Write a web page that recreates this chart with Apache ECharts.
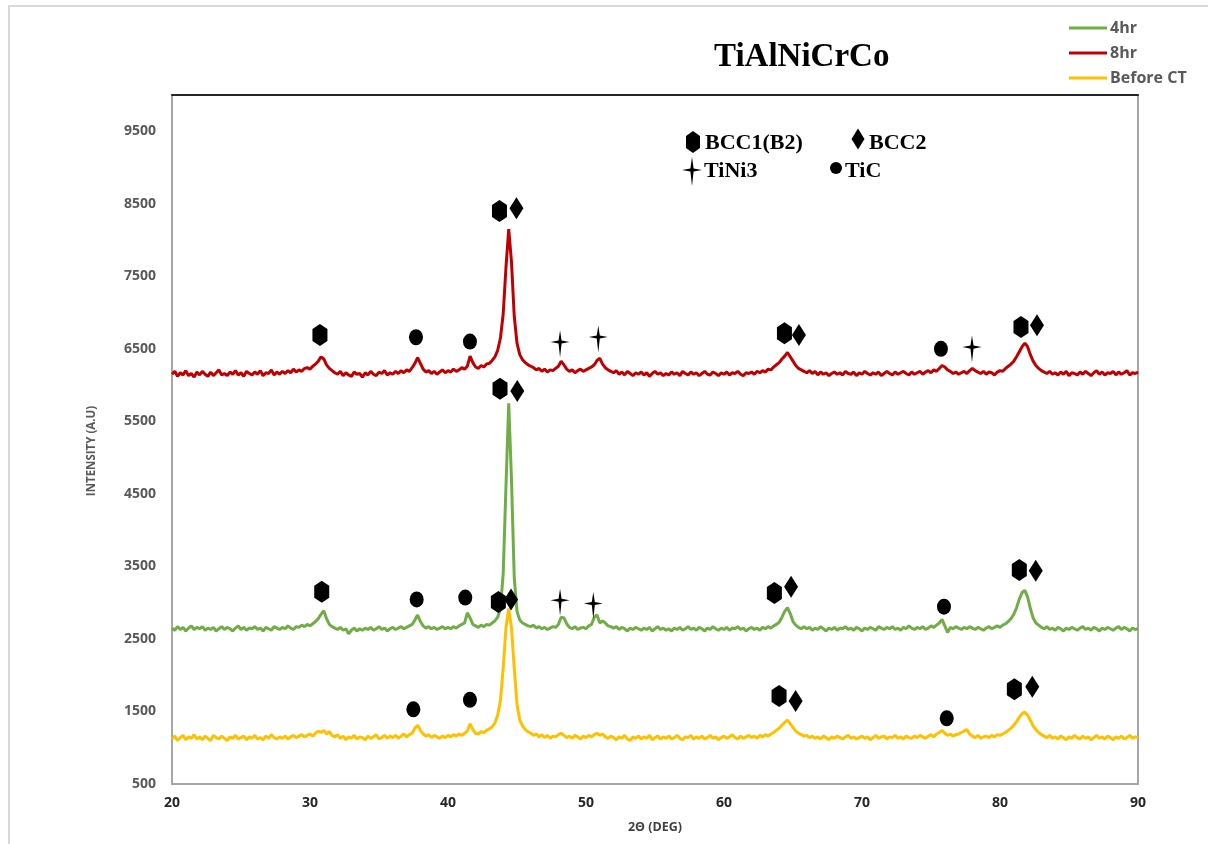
<!DOCTYPE html>
<html>
<head>
<meta charset="utf-8">
<title>TiAlNiCrCo XRD</title>
<script src="https://cdn.jsdelivr.net/npm/echarts@6/dist/echarts.min.js"></script>
<style>
  html, body { margin: 0; padding: 0; background: #fff; }
  #chart { width: 1208px; height: 844px; }
</style>
</head>
<body>
<div id="chart"></div>
<script>
// Diffraction scans, sampled every 0.2 degrees of 2-theta from 20 to 90.
const ANGLE_START = 20;
const ANGLE_STEP = 0.2;

const intensity4hr = [
  2650, 2620, 2670, 2630, 2660, 2610, 2650, 2680, 2630, 2660,
  2640, 2670, 2620, 2650, 2630, 2660, 2610, 2640, 2670, 2630,
  2660, 2640, 2610, 2650, 2680, 2630, 2660, 2620, 2650, 2640,
  2670, 2630, 2650, 2610, 2660, 2640, 2620, 2670, 2650, 2630,
  2660, 2640, 2680, 2650, 2630, 2670, 2660, 2690, 2670, 2700,
  2680, 2710, 2740, 2780, 2840, 2890, 2780, 2700, 2670, 2650,
  2630, 2660, 2620, 2640, 2570, 2620, 2650, 2610, 2640, 2620,
  2650, 2630, 2660, 2620, 2640, 2670, 2630, 2650, 2610, 2640,
  2660, 2630, 2650, 2670, 2640, 2660, 2680, 2700, 2760, 2830,
  2740, 2680, 2650, 2670, 2640, 2660, 2630, 2650, 2670, 2640,
  2660, 2640, 2670, 2650, 2680, 2700, 2720, 2860, 2790, 2700,
  2680, 2660, 2690, 2670, 2700, 2690, 2720, 2750, 2800, 2920,
  3400, 4600, 5750, 4700, 3350, 2880, 2760, 2720, 2700, 2680,
  2670, 2690, 2650, 2670, 2640, 2660, 2630, 2650, 2670, 2660,
  2700, 2800, 2790, 2710, 2660, 2640, 2670, 2630, 2650, 2660,
  2640, 2680, 2700, 2800, 2830, 2720, 2750, 2720, 2680, 2670,
  2650, 2670, 2630, 2660, 2640, 2610, 2650, 2630, 2660, 2640,
  2620, 2650, 2630, 2660, 2610, 2640, 2670, 2630, 2650, 2620,
  2640, 2610, 2650, 2630, 2660, 2620, 2640, 2670, 2630, 2650,
  2620, 2660, 2640, 2610, 2650, 2630, 2670, 2640, 2620, 2650,
  2630, 2660, 2620, 2650, 2640, 2670, 2630, 2650, 2610, 2640,
  2660, 2630, 2650, 2620, 2660, 2640, 2670, 2650, 2680, 2700,
  2730, 2800, 2880, 2930, 2850, 2740, 2690, 2660, 2640, 2670,
  2640, 2660, 2620, 2650, 2630, 2670, 2640, 2610, 2650, 2630,
  2660, 2620, 2650, 2640, 2670, 2630, 2650, 2620, 2660, 2640,
  2610, 2650, 2630, 2660, 2640, 2620, 2670, 2650, 2630, 2660,
  2640, 2670, 2630, 2650, 2620, 2660, 2640, 2680, 2650, 2630,
  2660, 2640, 2670, 2630, 2650, 2680, 2660, 2690, 2720, 2770,
  2680, 2590, 2660, 2640, 2670, 2650, 2630, 2660, 2640, 2670,
  2650, 2630, 2660, 2640, 2620, 2650, 2670, 2640, 2660, 2680,
  2660, 2690, 2710, 2740, 2780, 2840, 2930, 3050, 3140, 3170,
  3080, 2920, 2790, 2720, 2690, 2660, 2640, 2670, 2630, 2650,
  2620, 2660, 2640, 2610, 2650, 2630, 2660, 2640, 2620, 2650,
  2670, 2630, 2650, 2620, 2660, 2640, 2610, 2650, 2630, 2660,
  2640, 2620, 2650, 2670, 2630, 2660, 2640, 2610, 2650, 2630,
  2640
];

const intensity8hr = [
  6150, 6190, 6120, 6170, 6140, 6200, 6130, 6160, 6110, 6180,
  6140, 6190, 6150, 6120, 6180, 6130, 6170, 6210, 6140, 6160,
  6130, 6180, 6150, 6200, 6140, 6170, 6120, 6190, 6160, 6140,
  6180, 6150, 6200, 6130, 6170, 6160, 6210, 6140, 6180, 6150,
  6190, 6160, 6200, 6170, 6220, 6180, 6210, 6190, 6230, 6240,
  6220, 6260, 6290, 6330, 6390, 6360, 6280, 6230, 6200, 6170,
  6150, 6190, 6130, 6170, 6140, 6120, 6180, 6150, 6160, 6110,
  6170, 6140, 6190, 6150, 6130, 6180, 6160, 6200, 6140, 6170,
  6150, 6190, 6160, 6200, 6170, 6210, 6190, 6240, 6300, 6380,
  6300, 6220, 6180, 6200, 6160, 6190, 6150, 6180, 6210, 6170,
  6200, 6180, 6220, 6190, 6210, 6240, 6220, 6260, 6400, 6310,
  6250, 6230, 6270, 6250, 6290, 6300, 6340, 6390, 6480, 6650,
  6980, 7620, 8150, 7700, 6950, 6580, 6420, 6350, 6310, 6280,
  6260, 6240, 6210, 6230, 6190, 6220, 6180, 6210, 6200, 6230,
  6260, 6330, 6280, 6220, 6190, 6210, 6170, 6200, 6220, 6190,
  6210, 6230, 6250, 6280, 6340, 6370, 6290, 6240, 6210, 6190,
  6170, 6200, 6150, 6180, 6140, 6190, 6160, 6130, 6170, 6150,
  6180, 6140, 6170, 6120, 6160, 6190, 6150, 6170, 6130, 6160,
  6140, 6180, 6150, 6170, 6130, 6190, 6160, 6140, 6180, 6150,
  6170, 6130, 6160, 6190, 6150, 6140, 6180, 6160, 6130, 6170,
  6150, 6180, 6140, 6170, 6160, 6190, 6150, 6130, 6170, 6160,
  6180, 6150, 6190, 6170, 6200, 6180, 6220, 6210, 6250, 6280,
  6310, 6360, 6400, 6450, 6390, 6330, 6270, 6230, 6210, 6190,
  6170, 6200, 6160, 6190, 6140, 6180, 6150, 6170, 6130, 6160,
  6180, 6150, 6170, 6140, 6190, 6160, 6150, 6180, 6130, 6170,
  6150, 6190, 6160, 6140, 6170, 6150, 6180, 6130, 6160, 6190,
  6160, 6140, 6180, 6150, 6170, 6190, 6160, 6140, 6180, 6150,
  6170, 6190, 6150, 6180, 6200, 6170, 6210, 6190, 6230, 6270,
  6250, 6210, 6190, 6160, 6180, 6150, 6170, 6190, 6160, 6200,
  6230, 6200, 6180, 6160, 6190, 6150, 6180, 6170, 6140, 6180,
  6200, 6190, 6230, 6260, 6290, 6330, 6390, 6460, 6530, 6580,
  6530, 6420, 6330, 6270, 6230, 6200, 6180, 6160, 6190, 6150,
  6170, 6140, 6180, 6150, 6190, 6130, 6170, 6160, 6140, 6180,
  6150, 6190, 6160, 6130, 6170, 6200, 6150, 6180, 6140, 6170,
  6160, 6190, 6140, 6180, 6150, 6170, 6200, 6140, 6170, 6160,
  6180
];

const intensityBeforeCT = [
  1120, 1160, 1100, 1140, 1170, 1110, 1150, 1130, 1180, 1120,
  1150, 1110, 1160, 1130, 1100, 1170, 1140, 1120, 1160, 1130,
  1100, 1150, 1130, 1170, 1120, 1140, 1160, 1110, 1150, 1130,
  1170, 1120, 1140, 1110, 1160, 1130, 1180, 1140, 1120, 1150,
  1130, 1160, 1120, 1150, 1170, 1140, 1160, 1180, 1150, 1170,
  1190, 1160, 1200, 1230, 1210, 1240, 1190, 1220, 1170, 1150,
  1180, 1130, 1160, 1110, 1150, 1130, 1170, 1120, 1150, 1140,
  1110, 1160, 1130, 1150, 1180, 1120, 1140, 1170, 1130, 1160,
  1140, 1170, 1130, 1160, 1190, 1150, 1180, 1200, 1270, 1310,
  1240, 1190, 1160, 1180, 1140, 1170, 1150, 1130, 1160, 1140,
  1170, 1150, 1180, 1160, 1190, 1170, 1200, 1230, 1330, 1250,
  1200, 1190, 1220, 1210, 1240, 1260, 1290, 1340, 1450, 1650,
  2100, 2650, 2920, 2650, 2100, 1600, 1380, 1300, 1250, 1220,
  1200, 1170, 1190, 1150, 1180, 1140, 1170, 1130, 1160, 1150,
  1180, 1200, 1170, 1140, 1160, 1130, 1170, 1150, 1120, 1160,
  1140, 1170, 1150, 1180, 1200, 1170, 1190, 1150, 1130, 1160,
  1140, 1110, 1150, 1130, 1170, 1120, 1100, 1150, 1130, 1160,
  1120, 1150, 1130, 1170, 1110, 1140, 1160, 1120, 1150, 1130,
  1160, 1120, 1140, 1170, 1130, 1110, 1150, 1140, 1170, 1120,
  1150, 1130, 1160, 1120, 1140, 1170, 1130, 1150, 1110, 1140,
  1160, 1130, 1150, 1180, 1140, 1120, 1160, 1130, 1150, 1170,
  1140, 1160, 1130, 1170, 1150, 1180, 1160, 1190, 1210, 1240,
  1270, 1310, 1350, 1380, 1330, 1280, 1230, 1200, 1180, 1160,
  1170, 1140, 1160, 1130, 1150, 1120, 1160, 1140, 1110, 1150,
  1130, 1160, 1140, 1120, 1150, 1170, 1130, 1150, 1120, 1140,
  1160, 1130, 1150, 1110, 1140, 1170, 1130, 1150, 1160, 1120,
  1150, 1140, 1170, 1130, 1150, 1120, 1160, 1140, 1130, 1160,
  1140, 1170, 1150, 1130, 1160, 1180, 1150, 1190, 1210, 1240,
  1200, 1170, 1190, 1160, 1180, 1190, 1210, 1230, 1250, 1190,
  1160, 1140, 1170, 1130, 1150, 1160, 1140, 1170, 1150, 1180,
  1170, 1190, 1210, 1240, 1270, 1310, 1360, 1420, 1470, 1490,
  1450, 1380, 1300, 1250, 1210, 1180, 1160, 1140, 1170, 1130,
  1150, 1120, 1160, 1140, 1110, 1150, 1130, 1170, 1140, 1120,
  1160, 1130, 1150, 1110, 1140, 1170, 1130, 1150, 1120, 1160,
  1140, 1110, 1150, 1130, 1160, 1120, 1140, 1170, 1130, 1150,
  1140
];

// Phase identification marks: [2-theta, intensity] where each symbol sits.
const bcc1Marks = [
  [30.72, 6690], [43.73, 8400], [64.38, 6715], [81.52, 6800],
  [30.85, 3150], [43.65, 3010], [43.77, 5950], [63.65, 3135], [81.40, 3450],
  [63.99, 1715], [81.04, 1805]
];
const bcc2Marks = [
  [44.96, 8440], [65.43, 6690], [82.68, 6825],
  [44.57, 3045], [45.02, 5920], [64.86, 3220], [82.59, 3440],
  [65.19, 1645], [82.34, 1840]
];
const tini3Marks = [
  [48.12, 6595], [50.89, 6665], [77.97, 6525],
  [48.12, 3035], [50.53, 2990]
];
const ticMarks = [
  [37.68, 6660], [41.59, 6600], [75.72, 6500],
  [37.73, 3045], [41.25, 3070], [75.94, 2945],
  [37.49, 1530], [41.59, 1660], [76.14, 1405]
];

const seriesNames = ['4hr', '8hr', 'Before CT'];
const phaseNames = ['BCC1(B2)', 'BCC2', 'TiNi3', 'TiC'];
const yTickValues = [500, 1500, 2500, 3500, 4500, 5500, 6500, 7500, 8500, 9500];

function toPoints(values) {
  return values.map((v, i) => [+(ANGLE_START + i * ANGLE_STEP).toFixed(1), v]);
}

const HEX_PATH = 'path://M7,0 L14,5 L14,17 L7,22 L0,17 L0,5 Z';
const STAR_PATH = 'path://M10,0 L11.6,10.4 L20,12 L11.6,13.6 L10,28 L8.4,13.6 L0,12 L8.4,10.4 Z';

const tickFont = { fontFamily: 'Open Sans', fontWeight: 'bold', fontSize: 14 };
const phaseFont = 'bold 22px "Liberation Serif"';

function markSeries(name, data, symbol, size, offset) {
  return {
    type: 'scatter', name: name, data: data,
    symbol: symbol, symbolSize: size, symbolOffset: offset || [0, 0],
    itemStyle: { color: '#000', opacity: 1 }, z: 5, silent: true
  };
}

const chart = echarts.init(document.getElementById('chart'), null, { renderer: 'canvas' });

chart.setOption({
  animation: false,
  backgroundColor: '#ffffff',
  title: {
    text: 'TiAlNiCrCo',
    left: 709, top: 36,
    textStyle: { fontFamily: 'Liberation Serif', fontWeight: 'bold', fontSize: 33, color: '#000' }
  },
  legend: {
    data: seriesNames,
    orient: 'vertical',
    left: 1064, top: 15,
    icon: 'rect', itemWidth: 38, itemHeight: 3, itemGap: 9,
    textStyle: { fontFamily: 'Open Sans', fontWeight: 'bold', fontSize: 16, color: '#595959', padding: [0, 0, 0, -2] }
  },
  grid: {
    left: 172, right: 70, top: 95, bottom: 60,
    show: true, borderColor: '#A6A6A6', borderWidth: 2
  },
  xAxis: [{
    type: 'value', min: 20, max: 90, interval: 10,
    axisLine: { show: true, lineStyle: { color: '#A6A6A6', width: 2 } },
    axisTick: { show: false }, splitLine: { show: false },
    axisLabel: Object.assign({ margin: 12, color: '#262626' }, tickFont),
    name: '2Θ (DEG)', nameLocation: 'middle', nameGap: 37,
    nameTextStyle: { fontFamily: 'Open Sans', fontWeight: 'bold', fontSize: 12.5, color: '#404040' }
  }, {
    type: 'value', position: 'top', min: 20, max: 90, interval: 10,
    axisLine: { show: true, lineStyle: { color: '#262626', width: 2 } },
    axisTick: { show: false }, axisLabel: { show: false }, splitLine: { show: false }
  }],
  yAxis: {
    type: 'value', min: 500, max: 10000,
    axisLine: { show: true, lineStyle: { color: '#A6A6A6', width: 2 } },
    axisTick: { show: false }, splitLine: { show: false },
    axisLabel: Object.assign({
      margin: 16, color: '#595959', customValues: yTickValues,
      formatter: (v) => String(v)
    }, tickFont)
  },
  graphic: [
    { type: 'rect', silent: true, z: -10,
      shape: { x: 9, y: 6, width: 1220, height: 860 },
      style: { fill: null, stroke: '#D9D9D9', lineWidth: 2 } },
    { type: 'text', x: 92, y: 451, rotation: Math.PI / 2,
      style: { text: 'INTENSITY (A.U)', font: 'bold 11.5px "Open Sans"', fill: '#595959', align: 'center', verticalAlign: 'middle' } },
    // Phase key
    { type: 'polygon', shape: { points: [[693, 131], [700, 136], [700, 148], [693, 153], [686, 148], [686, 136]] }, style: { fill: '#000' } },
    { type: 'text', x: 705, y: 143, style: { text: phaseNames[0], font: phaseFont, fill: '#000', verticalAlign: 'middle' } },
    { type: 'polygon', shape: { points: [[858, 128.5], [864.5, 139], [858, 149.5], [851.5, 139]] }, style: { fill: '#000' } },
    { type: 'text', x: 869, y: 143, style: { text: phaseNames[1], font: phaseFont, fill: '#000', verticalAlign: 'middle' } },
    { type: 'polygon', shape: { points: [[692, 157], [693.6, 168.4], [702, 170], [693.6, 171.6], [692, 186], [690.4, 171.6], [682, 170], [690.4, 168.4]] }, style: { fill: '#000' } },
    { type: 'text', x: 704, y: 171, style: { text: phaseNames[2], font: phaseFont, fill: '#000', verticalAlign: 'middle' } },
    { type: 'circle', shape: { cx: 836, cy: 168, r: 6 }, style: { fill: '#000' } },
    { type: 'text', x: 845, y: 171, style: { text: phaseNames[3], font: phaseFont, fill: '#000', verticalAlign: 'middle' } }
  ],
  series: [
    { type: 'line', name: seriesNames[0], data: toPoints(intensity4hr), showSymbol: false,
      lineStyle: { width: 3, color: '#70AD47' }, itemStyle: { color: '#70AD47' } },
    { type: 'line', name: seriesNames[1], data: toPoints(intensity8hr), showSymbol: false,
      lineStyle: { width: 3, color: '#C00000' }, itemStyle: { color: '#C00000' } },
    { type: 'line', name: seriesNames[2], data: toPoints(intensityBeforeCT), showSymbol: false,
      lineStyle: { width: 3, color: '#FFC000' }, itemStyle: { color: '#FFC000' } },
    markSeries(phaseNames[0], bcc1Marks, HEX_PATH, [15, 22]),
    markSeries(phaseNames[1], bcc2Marks, 'diamond', [14, 22]),
    markSeries(phaseNames[2], tini3Marks, STAR_PATH, [19, 27], [0, 2]),
    markSeries(phaseNames[3], ticMarks, 'circle', [14, 16])
  ]
});
</script>
</body>
</html>
